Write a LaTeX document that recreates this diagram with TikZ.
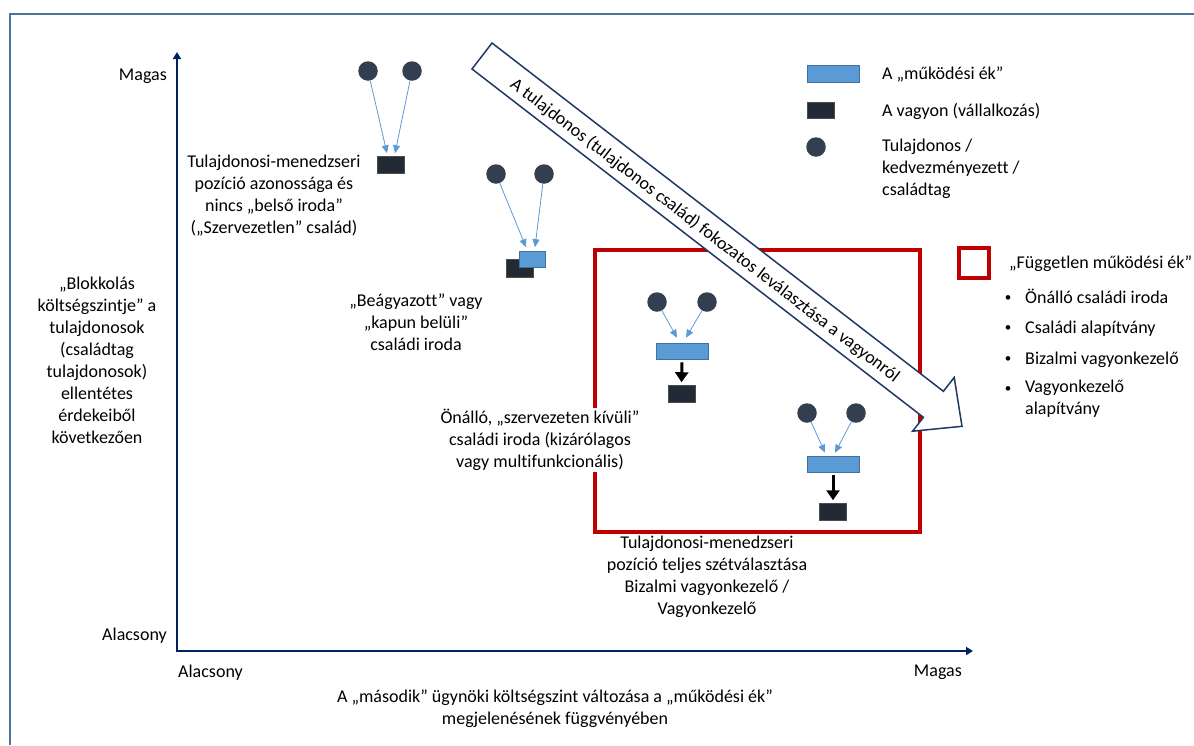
\documentclass[tikz,border=0pt]{standalone}
\usepackage{fontspec}
\setmainfont{Carlito}[Ligatures=CommonOff]
\usetikzlibrary{arrows.meta,calc}
\definecolor{navy}{RGB}{0,32,96}
\definecolor{framec}{RGB}{79,113,158}
\definecolor{personc}{RGB}{51,63,80}
\definecolor{assetc}{RGB}{34,42,53}
\definecolor{wedgec}{RGB}{91,155,213}
\definecolor{wedgeb}{RGB}{65,113,156}
\definecolor{redbox}{RGB}{192,0,0}
\definecolor{arrowb}{RGB}{32,56,100}
\begin{document}
\begin{tikzpicture}[x=1pt,y=-1pt,
 every node/.style={font=\fontsize{18}{22}\selectfont, text=black},
 lbl/.style={align=center, inner sep=1pt},
 plain/.style={inner sep=0pt},
 bulletnode/.style={inner sep=0pt, anchor=base, font=\fontsize{13}{14}\selectfont},
 personnode/.style={circle, fill=personc, minimum size=19.5pt, inner sep=0pt},
 assetbox/.style={rectangle, fill=assetc, draw=black!70, line width=0.5pt, minimum width=27pt, minimum height=17pt, inner sep=0pt},
 wedgebox/.style={rectangle, fill=wedgec, draw=wedgeb, line width=0.6pt, minimum width=52pt, minimum height=16pt, inner sep=0pt},
 thinarrow/.style={draw=wedgec, line width=0.8pt, -{Triangle[length=8pt,width=7pt]}},
 blackarrow/.style={draw=black, line width=3pt, -{Triangle[length=10pt,width=13pt]}},
 axisline/.style={draw=navy, line width=2.5pt, {Triangle[length=7pt,width=8pt]}-{Triangle[length=7pt,width=8pt]}},
]
\useasboundingbox (0,0) rectangle (1194,745);
% frame
\coordinate (fbl) at (9.5,745);
\coordinate (ftl) at (9.5,13.5);
\coordinate (ftr) at (1194,13.5);
\draw[framec, line width=2pt] (fbl) -- (ftl) -- (ftr);

% axes
\coordinate (O) at (177,651);
\coordinate (Ytop) at (177,52);
\coordinate (Xend) at (973,651);
\draw[axisline, line join=miter] (Ytop) -- (O) -- (Xend);
\node[plain, anchor=east] (ymag) at (167,76) {Magas};
\node[plain, anchor=east] (yalac) at (167,636) {Alacsony};
\node[plain, anchor=west] (xalac) at (178,673) {Alacsony};
\node[plain, anchor=east] (xmag) at (962,672) {Magas};
\node[lbl] (ylab) at (97,360) {„Blokkolás\\költségszintje” a\\tulajdonosok\\(családtag\\tulajdonosok)\\ellentétes\\érdekeiből\\következően};
\node[lbl] (cap) at (555,709) {A „második” ügynöki költségszint változása a „működési ék”\\megjelenésének függvényében};

% red box
\node[draw=redbox, line width=4pt, minimum width=325pt, minimum height=282.5pt, inner sep=0pt] (box) at (757.5,390.75) {};

% cluster 1
\node[personnode] (p1a) at (368,71) {};
\node[personnode] (p1b) at (412,71) {};
\node[assetbox] (a1) at (390.5,164.5) {};
\draw[thinarrow] (p1a) -- ($(a1.north)+(-3.5,-2.5)$);
\draw[thinarrow] (p1b) -- ($(a1.north)+(4.5,-2.5)$);
\node[lbl] (t1) at (274,196) {Tulajdonosi-menedzseri\\pozíció azonossága és\\nincs „belső iroda”\\(„Szervezetlen” család)};

% cluster 2
\node[personnode] (p2a) at (496,174) {};
\node[personnode] (p2b) at (544,174) {};
\node[assetbox, minimum height=18pt] (a2) at (519.5,268) {};
\node[wedgebox, minimum width=26pt] (w2) at (532,259) {};
\draw[thinarrow] (p2a) -- ($(w2.north)+(-6,-3.5)$);
\draw[thinarrow] (p2b) -- ($(w2.north)+(3,-3.5)$);
\node[lbl] (t2) at (416,322) {„Beágyazott” vagy\\„kapun belüli”\\családi iroda};

% cluster 3
\node[personnode] (p3a) at (657,302) {};
\node[personnode] (p3b) at (707,302) {};
\node[wedgebox] (w3) at (682,351) {};
\node[assetbox] (a3) at (681.5,393.5) {};
\draw[thinarrow] (p3a) -- ($(w3.north)+(-5,-5)$);
\draw[thinarrow] (p3b) -- ($(w3.north)+(4,-5)$);
\draw[blackarrow] ($(w3.south)+(0,3)$) -- ($(a3.north)+(0,-2.5)$);

% cluster 4
\node[personnode] (p4a) at (807,413) {};
\node[personnode] (p4b) at (856,413) {};
\node[wedgebox] (w4) at (833,464) {};
\node[assetbox] (a4) at (833,511.5) {};
\draw[thinarrow] (p4a) -- ($(w4.north)+(-8,-3)$);
\draw[thinarrow] (p4b) -- ($(w4.north)+(2,-3)$);
\draw[blackarrow] ($(w4.south)+(0,3)$) -- ($(a4.north)+(0,-2.5)$);

\node[lbl, fill=white] (t3) at (540,440) {Önálló, „szervezeten kívüli”\\családi iroda (kizárólagos\\vagy multifunkcionális)};
\node[lbl] (t4) at (707,577) {Tulajdonosi-menedzseri\\pozíció teljes szétválasztása\\Bizalmi vagyonkezelő /\\Vagyonkezelő};

% big arrow
\draw[draw=arrowb, line width=1.5pt, fill=white, line join=miter]
 (492,43) -- (943.4,391.3) -- (954.2,377.4) -- (962,426.3) -- (912.6,431.2) -- (923.4,417.3) -- (472,69) -- cycle;
\node[inner sep=0pt, rotate=-37.6] (atext) at (704.8,230.6) {A tulajdonos (tulajdonos család) fokozatos leválasztása a vagyonról};

% legend
\node[wedgebox, minimum height=17pt] (lw) at (833,73.5) {};
\node[assetbox, minimum height=16pt] (la) at (820.5,110) {};
\node[personnode] (lp) at (816,147) {};
\node[plain, anchor=base west] (lwt) at (882,79) {A „működési ék”};
\node[plain, anchor=base west] (lat) at (882,116) {A vagyon (vállalkozás)};
\node[plain, anchor=west, align=left] (lpt) at (882,169) {Tulajdonos /\\kedvezményezett /\\családtag};

\node[draw=redbox, line width=4pt, minimum size=30pt, inner sep=0pt] (lr) at (973.7,262.8) {};
\node[plain, anchor=base west] (lrt) at (1009,268) {„Független működési ék”};
\node[bulletnode] (b1) at (1008,301) {•};
\node[bulletnode] (b2) at (1008,331) {•};
\node[bulletnode] (b3) at (1008,362) {•};
\node[bulletnode] (b4) at (1008,392) {•};
\node[plain, anchor=base west] (i1) at (1025,303) {Önálló családi iroda};
\node[plain, anchor=base west] (i2) at (1025,333) {Családi alapítvány};
\node[plain, anchor=base west] (i3) at (1025,364) {Bizalmi vagyonkezelő};
\node[plain, anchor=west, align=left] (i4) at (1025,399) {Vagyonkezelő\\alapítvány};
\end{tikzpicture}
\end{document}
